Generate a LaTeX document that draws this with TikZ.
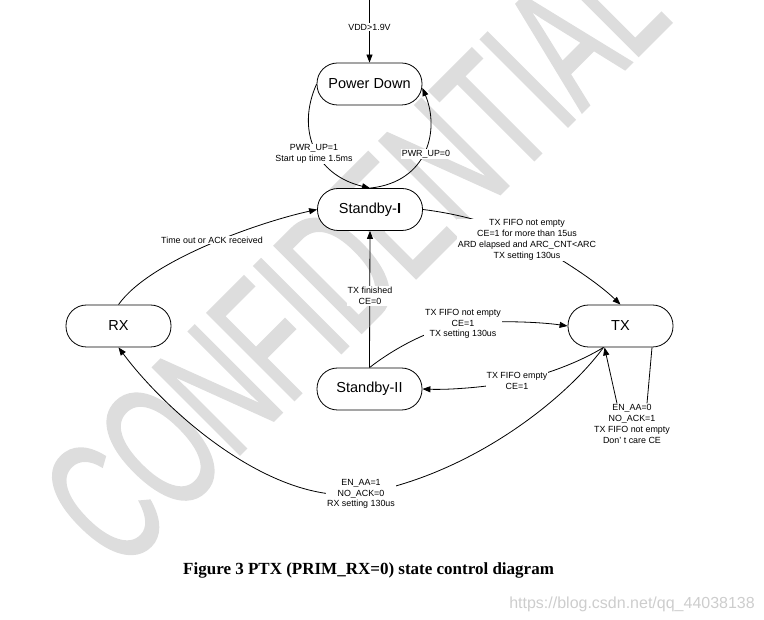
\documentclass[tikz,border=0pt]{standalone}
\usepackage{fontspec}
\usepackage{graphicx}
\setmainfont{Liberation Sans}
\newfontfamily\capfont{Liberation Serif}
\newfontfamily\wmfont[FakeBold=1.5]{Liberation Sans}
\usetikzlibrary{arrows.meta}
\pgfdeclarelayer{wm}
\pgfdeclarelayer{edges}
\pgfsetlayers{wm,edges,main}
\definecolor{wmgray}{RGB}{221,221,221}
\definecolor{urlgray}{RGB}{205,205,205}
\begin{document}
\begin{tikzpicture}[x=1pt,y=-1pt,
  state/.style={draw, line width=0.8pt, fill=white, rectangle, rounded corners=20.5pt,
    minimum width=105pt, minimum height=42pt, inner sep=0pt, font=\fontsize{14.5}{16}\selectfont},
  lbl/.style={fill=white, inner sep=1pt, align=center, font=\fontsize{8.9}{10.8}\selectfont},
  arr/.style={line width=0.8pt, -{Triangle[length=8pt,width=6pt]}},
  ln/.style={line width=0.8pt}]
\useasboundingbox (0,0) rectangle (764,620);

% watermark
\begin{pgfonlayer}{wm}
\node[anchor=base west, rotate=45, inner sep=0pt, text=wmgray] (wm) at (120,574)
  {\scalebox{0.6}[1]{\wmfont\fontsize{178}{178}\selectfont CONFIDENTIAL}};
\end{pgfonlayer}

% states
\node[state] (pd) at (369.5,84) {Power Down};
\node[state] (s1) at (370,209.5) {Standby-\textbf{I}};
\node[state] (rx) at (118.5,326) {RX};
\node[state] (tx) at (620.5,326) {TX};
\node[state] (s2) at (369.5,389) {Standby-II};

% labels
\node[lbl] (l1) at (369.5,27) {VDD>1.9V};
\node[lbl] (l2) at (314,154) {PWR\_UP=1\\Start up time 1.5ms};
\node[lbl] (l3) at (426,154) {PWR\_UP=0};
\node[lbl] (l4) at (212,240) {Time out or ACK received};
\node[lbl] (l5) at (527,240) {TX FIFO not empty\\CE=1 for more than 15us\\ARD elapsed and ARC\_CNT<ARC\\TX setting 130us};
\node[lbl] (l6) at (370,296) {TX finished\\CE=0};
\node[lbl] (l7) at (463,324) {TX FIFO not empty\\CE=1\\TX setting 130us};
\node[lbl] (l8) at (517,381) {TX FIFO empty\\CE=1};
\node[lbl] (l9) at (361,494) {EN\_AA=1\\NO\_ACK=0\\RX setting 130us};
\node[lbl] (l10) at (632,424) {EN\_AA=0\\NO\_ACK=1\\TX FIFO not empty\\Don’ t care CE};

\coordinate (vdd) at (369.5,0);

\begin{pgfonlayer}{edges}
\draw[arr] (vdd) -- (pd.north);
\draw[arr] (pd.west) .. controls (296,130) and (315,175) .. (s1.north);
\draw[arr] (s1.north) .. controls (428,182) and (440,130) .. ([yshift=-4pt]pd.east);
\draw[arr] (rx.north) .. controls (150,260) and (260,222) .. (s1.west);
\draw[arr] (s1.east) .. controls (460,214) and (500,225) .. (l5.center) .. controls (555,255) and (595,280) .. (tx.north);
\draw[arr] (s2.north) -- (s1.south);
\draw[arr] (s2.north) .. controls (392,350) and (430,328) .. (l7.center) .. controls (495,320) and (540,322) .. (tx.west);
\draw[arr] ([xshift=-17pt]tx.south) .. controls (580,362) and (545,375) .. (l8.center) .. controls (490,387) and (450,390) .. (s2.east);
\draw[arr] ([xshift=-17pt]tx.south) .. controls (565,400) and (470,475) .. (l9.center) .. controls (270,505) and (165,410) .. (rx.south);
\draw[ln] ([xshift=31.5pt]tx.south) -- ([xshift=15pt]l10.north);
\draw[arr] ([xshift=-15pt]l10.north) -- ([xshift=-16pt]tx.south);
\end{pgfonlayer}

% caption and url
\node[anchor=base west, inner sep=0pt, font=\capfont\bfseries\fontsize{17}{20}\selectfont] (cap) at (183,574)
  {Figure 3 PTX (PRIM\_RX=0) state control diagram};
\node[anchor=base east, inner sep=0pt, text=urlgray, font=\fontsize{16}{18}\selectfont] (url) at (755,608)
  {https://blog.csdn.net/qq\_44038138};
\end{tikzpicture}
\end{document}
